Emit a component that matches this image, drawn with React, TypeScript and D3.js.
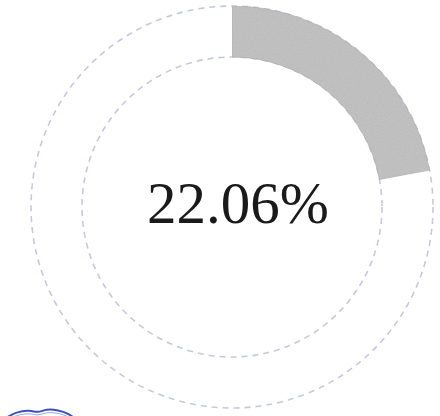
import React from "react";
import * as d3 from "d3";

const categories = ["filled", "remaining"];
const values = [22.06, 77.94];
const labelText = ["22.06%"];

const W = 440;
const H = 416;
const cx = 232;
const cy = 207;
const outerR = 201;
const innerR = 150;

export default function App() {
  const pie = d3
    .pie<number>()
    .sort(null)
    .value((d) => d);
  const arcs = pie(values);
  const arcGen = d3.arc<d3.PieArcDatum<number>>().innerRadius(innerR).outerRadius(outerR);

  const blueLine = d3.line().curve(d3.curveBasis)([
    [6, 418],
    [16, 412],
    [30, 410],
    [38, 413],
    [46, 409],
    [58, 410],
    [70, 414],
    [76, 420],
  ]);

  return (
    <div style={{ position: "absolute", left: 0, top: 0 }}>
      <svg width={W} height={H} style={{ display: "block", background: "#fff" }}>
        <defs>
          <filter id="grain" x="0" y="0" width="100%" height="100%">
            <feTurbulence type="fractalNoise" baseFrequency="0.9" numOctaves="2" seed="3" result="n" />
            <feColorMatrix
              in="n"
              type="matrix"
              values="0 0 0 0 0  0 0 0 0 0  0 0 0 0 0  0 0 0 0.15 0"
              result="a"
            />
            <feComposite in="a" in2="SourceGraphic" operator="in" result="g" />
            <feMerge>
              <feMergeNode in="SourceGraphic" />
              <feMergeNode in="g" />
            </feMerge>
          </filter>
        </defs>
        <g transform={`translate(${cx},${cy})`}>
          <circle r={outerR} fill="none" stroke="#c6c9dc" strokeWidth={1.6} strokeDasharray="6 5" />
          <circle r={innerR} fill="none" stroke="#c6c9dc" strokeWidth={1.6} strokeDasharray="6 5" />
          {arcs
            .filter((a, i) => categories[i] === "filled")
            .map((a, i) => (
              <path
                key={i}
                d={arcGen(a) || ""}
                fill="#c6c6c6"
                stroke="#b0b0b0"
                strokeWidth={0.6}
                filter="url(#grain)"
              />
            ))}
        </g>
        <text
          x={238}
          y={223}
          textAnchor="middle"
          fontFamily="'Liberation Serif', serif"
          fontSize={59}
          fill="#1a1a1a"
        >
          {labelText[0]}
        </text>
        <path d={blueLine || ""} fill="none" stroke="#3b4fc4" strokeWidth={2} />
        <path d={blueLine || ""} fill="none" stroke="#9aa6e8" strokeWidth={1} transform="translate(0,3)" />
      </svg>
    </div>
  );
}
